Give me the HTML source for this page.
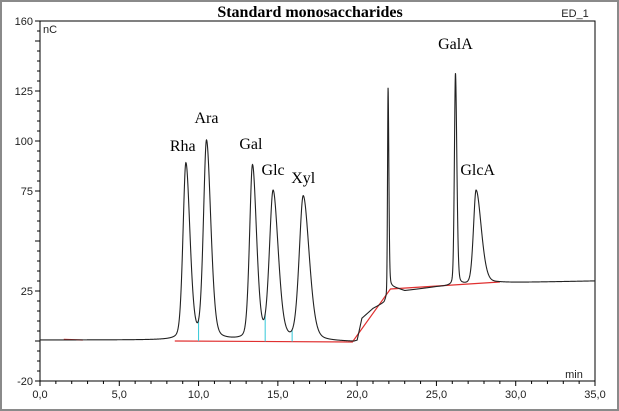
<!DOCTYPE html>
<html><head><meta charset="utf-8"><style>
html,body{margin:0;padding:0;background:#fff}
svg{display:block}
.ax{font-family:"Liberation Sans",sans-serif;font-size:11px;fill:#222}
.lb{font-family:"Liberation Serif",serif;font-size:16px;fill:#000}
</style></head><body>
<svg id="chart" width="619" height="411">
<rect x="1" y="1" width="617" height="409" fill="#fff" stroke="#8a8a8a" stroke-width="2"/>
<text x="310" y="17" text-anchor="middle" style="font-family:'Liberation Serif',serif;font-size:16px;font-weight:bold">Standard monosaccharides</text>
<text x="575" y="17" text-anchor="middle" class="ax">ED_1</text>
<g id="axes"></g>
<g id="marks"></g>
<text x="43" y="33" class="ax">nC</text>
<text x="574" y="378" text-anchor="middle" class="ax">min</text>
</svg>
<script>
const xTicks=[0,5,10,15,20,25,30,35];
const xTickLabels=["0,0","5,0","10,0","15,0","20,0","25,0","30,0","35,0"];
const yTicks=[160,125,100,75,25,-20];
const peakNames=["Rha","Ara","Gal","Glc","Xyl","","GalA","GlcA"];
const peakTimes=[9.2,10.5,13.4,14.7,16.6,21.95,26.2,27.5];
const peakHeights=[88,99,87,74,72,103,106,47];
const peakWidths=[0.19,0.2,0.19,0.24,0.26,0.035,0.07,0.17];
const peakTails=[1.4,1.4,1.4,1.4,1.5,1.5,1.3,2.0];
const baseT=[0,8.5,19.8,20.0,20.3,21.0,21.7,21.85,22.1,22.6,23,25,29,35];
const baseV=[0.5,0.5,-0.5,0,11,16,19,21,27,26,25,27,29,30];
const intBaseT=[8.5,19.7,22.1,29];
const intBaseV=[0,-0.5,26,29.5];
const dropTimes=[10.0,14.2,15.9];
const labelT=[9.0,10.5,13.3,14.7,16.6,0,26.2,27.6];
const labelV=[95,109,96,83,79,0,146,83];

const X=t=>40+t*(555/35);
const Y=v=>341-v*2;
const ns="http://www.w3.org/2000/svg";
function mk(tag,attrs,parent){const e=document.createElementNS(ns,tag);for(const k in attrs)e.setAttribute(k,attrs[k]);parent.appendChild(e);return e;}
const axes=document.getElementById('axes'),marks=document.getElementById('marks');

const frame=mk('path',{d:`M${X(0)},${Y(160)}H${X(35)}V${Y(-20)}H${X(0)}Z`,fill:'none',stroke:'#000','stroke-width':1},axes);


for(let v=-20;v<=160;v+=5){const l=mk('line',{x1:X(0)-(v%25===0||v===160||v===-20?5:3),x2:X(0),y1:Y(v),y2:Y(v),stroke:'#000'},axes);

}
yTicks.forEach(v=>{const t=mk('text',{x:X(0)-7,y:Y(v)+4,'text-anchor':'end',class:'ax'},axes);t.textContent=v;

});
for(let t=0;t<=35;t+=1){const l=mk('line',{x1:X(t),x2:X(t),y1:Y(-20),y2:Y(-20)+(t%5===0?5:3),stroke:'#000'},axes);

}
xTicks.forEach((v,i)=>{const t=mk('text',{x:X(v),y:Y(-20)+17,'text-anchor':'middle',class:'ax'},axes);t.textContent=xTickLabels[i];

});

function base(t){for(let i=0;i<baseT.length-1;i++){if(t<=baseT[i+1]){const f=(t-baseT[i])/(baseT[i+1]-baseT[i]);return baseV[i]+f*(baseV[i+1]-baseV[i]);}}return baseV[baseV.length-1];}
function sig(t){let v=base(t);for(let i=0;i<peakTimes.length;i++){let d=(t-peakTimes[i])/peakWidths[i];if(d>0)d/=peakTails[i];v+=peakHeights[i]*(0.72*Math.exp(-d*d/2)+0.28/(1+d*d));}return v;}

const ib=mk('polyline',{points:intBaseT.map((t,i)=>X(t)+','+Y(intBaseV[i])).join(' '),fill:'none',stroke:'#e03030','stroke-width':1.2},marks);


const sb=mk('line',{x1:X(1.5),x2:X(2.7),y1:Y(0.8),y2:Y(0.5),stroke:'#e03030','stroke-width':1.2},marks);


dropTimes.forEach(t=>{const f=(t-intBaseT[0])/(intBaseT[1]-intBaseT[0]);const b=intBaseV[0]+f*(intBaseV[1]-intBaseV[0]);
const l=mk('line',{x1:X(t),x2:X(t),y1:Y(b),y2:Y(sig(t)),stroke:'#33c8d8','stroke-width':1},marks);

});

let pts=[];for(let t=0;t<=35.001;t+=0.01)pts.push(X(t).toFixed(2)+','+Y(sig(t)).toFixed(2));
const tr=mk('polyline',{points:pts.join(' '),fill:'none',stroke:'#222','stroke-width':1.1},marks);



peakNames.forEach((n,i)=>{if(!n)return;const t=mk('text',{x:X(labelT[i]),y:Y(labelV[i]),'text-anchor':'middle',class:'lb'},marks);t.textContent=n;

});
</script>
</body></html>
